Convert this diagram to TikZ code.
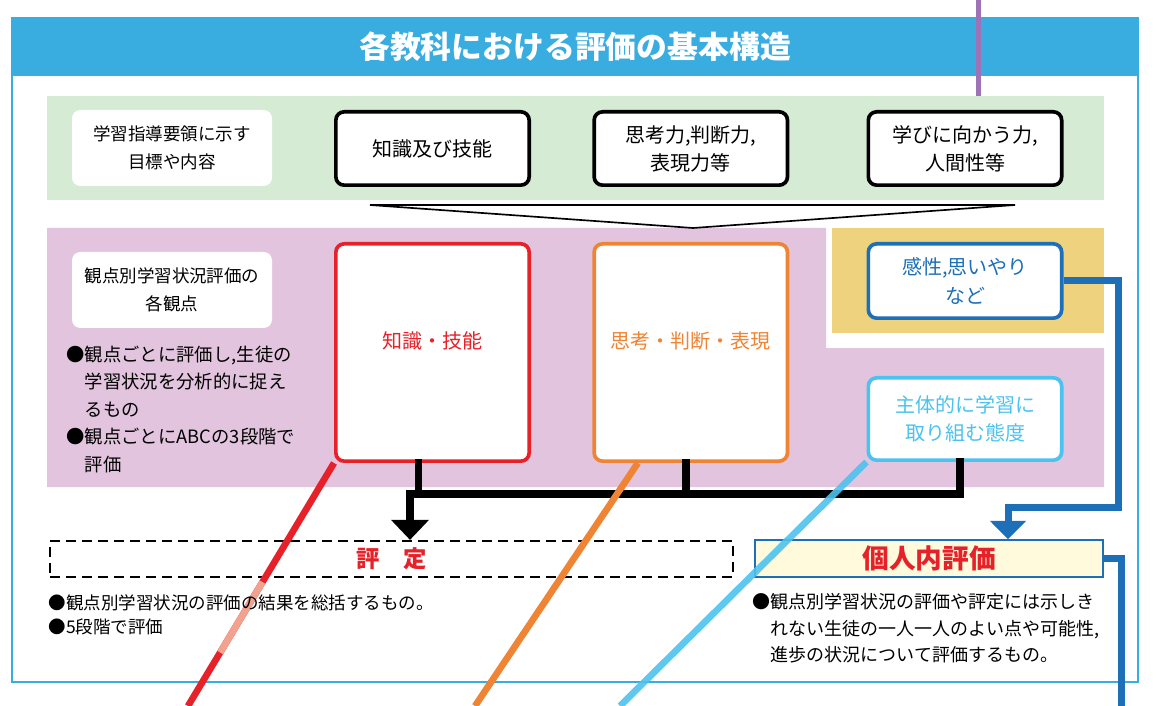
\documentclass[tikz,border=0pt]{standalone}
\usepackage{fontspec}
\setmainfont{Noto Sans CJK JP}
\usetikzlibrary{arrows.meta,positioning,calc,backgrounds}
\definecolor{barblue}{HTML}{3AADE0}
\definecolor{bandgreen}{HTML}{D5EBD4}
\definecolor{bandpink}{HTML}{E3C4DF}
\definecolor{bandgold}{HTML}{EED27E}
\definecolor{kred}{HTML}{E62129}
\definecolor{korange}{HTML}{EE8434}
\definecolor{kblue}{HTML}{1D6FB8}
\definecolor{klight}{HTML}{4CC2EE}
\definecolor{kpurple}{HTML}{9D72B6}
\definecolor{kyellow}{HTML}{FEFADB}
\definecolor{ksalmon}{HTML}{F2A28E}

\begin{document}
\begin{tikzpicture}[x=0.6pt, y=-0.6pt, on grid, thick, text centered,
                    font=\fontsize{12}{16.8}\selectfont]
    \tikzstyle{plainbox} = [rectangle, rounded corners=5pt, fill=white, minimum width=120pt,
                            minimum height=45.6pt, align=center, font=\fontsize{10.5}{16.8}\selectfont]
    \tikzstyle{aimbox} = [rectangle, rounded corners=5pt, draw=black, line width=2.2pt, fill=white,
                          minimum width=116pt, minimum height=44pt, align=center]
    \tikzstyle{kanbox} = [rectangle, rounded corners=5pt, line width=2.2pt, fill=white,
                          minimum width=116pt, align=center]
    \tikzstyle{notetext} = [anchor=north west, align=left, inner sep=0pt]
    \tikzstyle{busline} = [line width=4.5pt, line cap=rect, line join=miter]
    \tikzstyle{blueline} = [kblue, line width=4.2pt, line join=miter]
    \tikzstyle{diag} = [line width=4pt]

    \useasboundingbox (0,0) rectangle (1164,706);

    % frame and bands
    \fill[barblue] (12,18) rectangle (1138,76);
    \draw[barblue, line width=1.2pt] (12,18) rectangle (1138,682);
    \fill[bandgreen] (47,96) rectangle (1104,200);
    \fill[bandpink] (47,228) -- (826,228) -- (826,348) -- (1104,348) -- (1104,487) -- (47,487) -- cycle;
    \fill[bandgold] (832,228) rectangle (1104,333);
    \draw[fill=white, line width=1pt] (370,205) -- (1015,205) -- (693,228) -- cycle;

    \coordinate (ptop) at (978,0);
    \coordinate (pbot) at (978,96);
    \draw[kpurple, line width=3pt] (ptop) -- (pbot);

    \node (title) at (575,47) {\fontsize{18.5}{20}\selectfont\bfseries\color{white}各教科における評価の基本構造};

    \node (goal) [plainbox] at (172,148) {学習指導要領に示す\\目標や内容};
    \node (aim1) [aimbox] at (432.5,148.5) {知識及び技能};
    \node (aim2) [aimbox, right=155pt of aim1] {思考力,判断力,\\表現力等};
    \node (aim3) [aimbox, right=164.5pt of aim2] {学びに向かう力,\\人間性等};

    \node (view) [plainbox, below=85.2pt of goal] {観点別学習状況評価の\\各観点};
    \node (pt1) [kanbox, draw=kred, minimum height=130.4pt, below=122.4pt of aim1,
                 label={[kred, yshift=7pt]center:知識・技能}] {};
    \node (pt2) [kanbox, draw=korange, minimum height=130.4pt, below=122.4pt of aim2,
                 label={[korange, yshift=7pt]center:思考・判断・表現}] {};
    \node (pt3) [kanbox, draw=kblue, text=kblue, minimum height=44.6pt, below=79.5pt of aim3,
                 font=\fontsize{12}{17.4}\selectfont] {感性,思いやり\\など};
    \node (pt4) [kanbox, draw=klight, text=klight, minimum height=49.4pt, below=82.8pt of pt3] {主体的に学習に\\取り組む態度};

    \node (note1) [notetext, font=\fontsize{11}{16.5}\selectfont] at (66,345)
        {●観点ごとに評価し,生徒の\\\phantom{●}学習状況を分析的に捉え\\\phantom{●}るもの\\●観点ごとにABCの3段階で\\\phantom{●}評価};

    \node (grade) [draw=black, line width=1.5pt, dash pattern=on 6pt off 3.6pt, minimum width=410pt,
                   minimum height=21.4pt, text=kred, font=\fontsize{14}{16}\selectfont\bfseries]
                   at (391.5,559) {評　定};
    \node (indiv) [draw=kblue, line width=1.2pt, fill=kyellow, minimum width=209pt, minimum height=21pt,
                   text=kred, font=\fontsize{16}{18}\selectfont\bfseries] at (929,558.5) {個人内評価};

    % black bus to grade
    \coordinate (jn) at (410,494);
    \coordinate (s1) at ([xshift=-8.5pt]pt1.south);
    \coordinate (s2) at ([xshift=-3pt]pt2.south);
    \coordinate (s3) at ([xshift=-3pt]pt4.south);
    \draw[busline] (s1) -- (s1 |- jn);
    \draw[busline] (s2) -- (s2 |- jn);
    \draw[busline] (s3) -- (s3 |- jn);
    \draw[busline] (jn) -- (s3 |- jn);
    \draw[line width=4.5pt, -{Triangle[length=12pt, width=22pt]}] (jn) -- (jn |- grade.north);

    % blue route to indiv
    \coordinate (bturn) at (1118,507);
    \coordinate (bin) at ([xshift=47.4pt]indiv.north);
    \coordinate (bout) at (1121,706);
    \draw[blueline, -{Triangle[length=11pt, width=21pt]}] (pt3.east) -| (bturn) -| (bin);
    \draw[blueline] (indiv.east) -| (bout);

    % diagonal lines
    \coordinate (rend) at (188,706);
    \coordinate (ostart) at ([xshift=-31.8pt]pt2.south);
    \coordinate (oend) at (475,706);
    \coordinate (lend) at (620,706);
    \draw[diag, kred] (pt1.south west) -- (rend);
    \draw[diag, ksalmon] ($(pt1.south west)!0.49!(rend)$) -- ($(pt1.south west)!0.78!(rend)$);
    \draw[diag, korange] (ostart) -- (oend);
    \draw[diag, klight, opacity=.9] (pt4.south west) -- (lend);

    \node (note2) [notetext, font=\fontsize{10.5}{14.4}\selectfont] at (48,594)
        {●観点別学習状況の評価の結果を総括するもの。\\●5段階で評価};
    \node (note3) [notetext, font=\fontsize{10.8}{15.9}\selectfont] at (752,593)
        {●観点別学習状況の評価や評定には示しき\\\phantom{●}れない生徒の一人一人のよい点や可能性,\\\phantom{●}進歩の状況について評価するもの。};
  \end{tikzpicture}
\end{document}
